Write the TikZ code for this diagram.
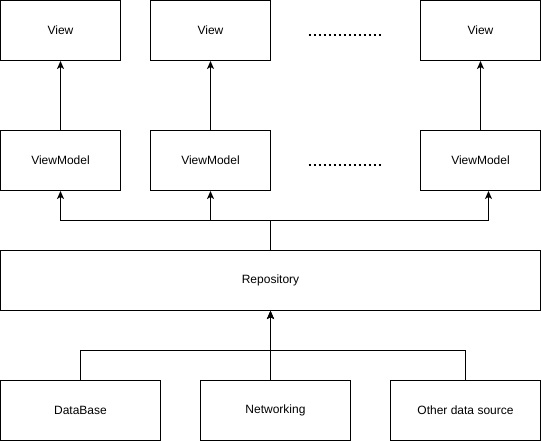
\documentclass[tikz,border=0pt]{standalone}
\usepackage{fontspec}
\setmainfont{Liberation Sans}
\usepackage{tikz}
\usetikzlibrary{arrows.meta, positioning}

\tikzset{
  box/.style={draw, line width=1pt, minimum height=60pt, inner sep=0pt,
    font=\fontsize{12}{14}\selectfont},
  arr/.style={-{Stealth[length=8pt,width=7pt,inset=2pt]}, line width=1pt},
  gap/.style={line width=2pt, dash pattern=on 2pt off 3pt}
}

\begin{document}
\begin{tikzpicture}[x=1pt,y=-1pt]
\useasboundingbox (-0.5,-0.5) rectangle (540.5,440.5);
% views
\node[box, minimum width=120pt] (view1) at (60,30) {View};
\node[box, minimum width=120pt] (view2) at (210,30) {View};
\node[box, minimum width=120pt] (view3) at (480,30) {View};
% view models
\node[box, minimum width=120pt] (vm1) at (60,160) {ViewModel};
\node[box, minimum width=120pt] (vm2) at (210,160) {ViewModel};
\node[box, minimum width=120pt] (vm3) at (480,160) {ViewModel};
\node[box, minimum width=540pt] (repo) at (270,280) {Repository};
% sources
\node[box, minimum width=160pt] (db) at (80,410) {DataBase};
\node[box, minimum width=150pt] (net) at (275,410) {Networking};
\node[box, minimum width=150pt] (other) at (465,410) {Other data source};
\draw[gap] (308,35) -- (382,35);
\draw[gap] (308,165) -- (382,165);
\coordinate (bus) at (270,220);
\coordinate (join) at (270,350);
\draw[arr] (vm1) -- (view1);
\draw[arr] (vm2) -- (view2);
\draw[arr] (vm3) -- (view3);
\draw[arr] (repo.north) -- (bus) -| (vm1.south);
\draw[arr] (bus) -| (vm2.south);
\draw[arr] (bus) -| ([xshift=8pt]vm3.south);
\draw[arr] (db.north) |- (join) -- (repo.south);
\draw[arr] (other.north) |- (join) -- (repo.south);
\draw[arr] (join |- net.north) -- (repo.south);
\end{tikzpicture}
\end{document}
